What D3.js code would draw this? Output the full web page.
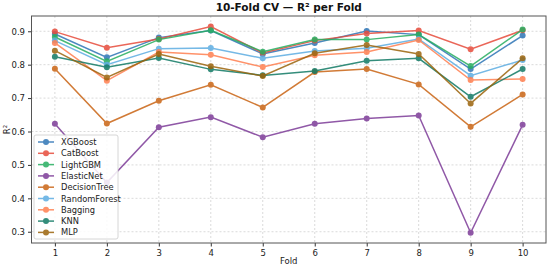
<!DOCTYPE html>
<html><head><meta charset="utf-8">
<script src="https://cdn.jsdelivr.net/npm/d3@7"></script>
<style>body{margin:0;background:#fff}svg{display:block;font-family:"DejaVu Sans",sans-serif}</style>
</head><body><svg id="c" width="550" height="270"></svg>
<script>
const folds = [1,2,3,4,5,6,7,8,9,10];
const models = ["XGBoost","CatBoost","LightGBM","ElasticNet","DecisionTree","RandomForest","Bagging","KNN","MLP"];
const colors = ["#2E75B6","#E74C3C","#27AE60","#7D3C98","#CA6414","#5DADE2","#FF7F50","#117A65","#9C640C"];
const xgboost      = [0.892,0.822,0.881,0.902,0.832,0.865,0.901,0.890,0.787,0.887];
const catboost     = [0.899,0.851,0.877,0.914,0.835,0.872,0.893,0.902,0.846,0.903];
const lightgbm     = [0.883,0.810,0.875,0.903,0.839,0.875,0.875,0.890,0.796,0.905];
const elasticnet   = [0.623,0.447,0.613,0.643,0.583,0.623,0.639,0.648,0.297,0.620];
const decisiontree = [0.788,0.624,0.692,0.740,0.672,0.778,0.787,0.741,0.614,0.711];
const randomforest = [0.872,0.800,0.848,0.850,0.819,0.841,0.849,0.877,0.767,0.814];
const bagging      = [0.865,0.752,0.838,0.830,0.793,0.828,0.838,0.874,0.754,0.757];
const knn          = [0.824,0.792,0.820,0.786,0.768,0.781,0.812,0.819,0.704,0.787];
const mlp          = [0.842,0.762,0.832,0.795,0.766,0.834,0.859,0.832,0.684,0.819];
const series = [xgboost,catboost,lightgbm,elasticnet,decisiontree,randomforest,bagging,knn,mlp];
const yTicks = [0.3,0.4,0.5,0.6,0.7,0.8,0.9];

const svg = d3.select("#c");
const L=31.5,R=546,T=16,B=243;
const x = d3.scaleLinear().domain([0.55,10.45]).range([L,R]);
const y = d3.scaleLinear().domain([0.2663,0.9457]).range([B,T]);

// grid
const g = svg.append("g");
g.selectAll(".gx").data(folds).enter().append("line")
 .attr("x1",d=>x(d)).attr("x2",d=>x(d)).attr("y1",T).attr("y2",B)
 .attr("stroke","#d0d0d0").attr("stroke-width",0.8).attr("stroke-dasharray","2,2");
g.selectAll(".gy").data(yTicks).enter().append("line")
 .attr("y1",d=>y(d)).attr("y2",d=>y(d)).attr("x1",L).attr("x2",R)
 .attr("stroke","#d0d0d0").attr("stroke-width",0.8).attr("stroke-dasharray","2,2");

// axes
const xa = svg.append("g").attr("transform",`translate(0,${B})`)
 .call(d3.axisBottom(x).tickValues(folds).tickFormat(d3.format("d")).tickSize(3.5).tickPadding(3));
const ya = svg.append("g").attr("transform",`translate(${L},0)`)
 .call(d3.axisLeft(y).tickValues(yTicks).tickFormat(d3.format(".1f")).tickSize(3.5).tickPadding(3));
[xa,ya].forEach(a=>{a.select(".domain").remove();a.selectAll("line").attr("stroke","#333");
 a.selectAll("text").attr("font-size","8.5px").attr("fill","#222").attr("font-family","DejaVu Sans");});

svg.append("rect").attr("x",L).attr("y",T).attr("width",R-L).attr("height",B-T)
 .attr("fill","none").attr("stroke","#555").attr("stroke-width",1);

// lines
const line = d3.line().x((d,i)=>x(folds[i])).y(d=>y(d));
series.forEach((s,k)=>{
  const gg = svg.append("g").attr("opacity",0.85);
  gg.append("path").datum(s).attr("d",line).attr("fill","none").attr("stroke",colors[k]).attr("stroke-width",1.5);
  gg.selectAll("circle").data(s).enter().append("circle")
   .attr("cx",(d,i)=>x(folds[i])).attr("cy",d=>y(d)).attr("r",3).attr("fill",colors[k]);
});

// title & labels
svg.append("text").attr("x",(L+R)/2).attr("y",11).attr("text-anchor","middle")
 .attr("font-size","10.5px").attr("font-weight","bold").attr("fill","#111").text("10-Fold CV — R² per Fold");
svg.append("text").attr("x",(L+R)/2).attr("y",264).attr("text-anchor","middle")
 .attr("font-size","8.5px").attr("fill","#222").text("Fold");
svg.append("text").attr("transform",`translate(10,${(T+B)/2}) rotate(-90)`).attr("text-anchor","middle")
 .attr("font-size","8.5px").attr("fill","#222").text("R²");

// legend
const lg = svg.append("g").attr("transform","translate(34,135)");
lg.append("rect").attr("width",84).attr("height",104).attr("rx",2)
 .attr("fill","#fff").attr("fill-opacity",0.85).attr("stroke","#ccc").attr("stroke-width",0.8);
models.forEach((m,k)=>{
  const yy = 7 + k*11.3;
  const e = lg.append("g").attr("opacity",0.85);
  e.append("line").attr("x1",4).attr("x2",20).attr("y1",yy).attr("y2",yy).attr("stroke",colors[k]).attr("stroke-width",1.5);
  e.append("circle").attr("cx",12).attr("cy",yy).attr("r",3).attr("fill",colors[k]);
  lg.append("text").attr("x",27).attr("y",yy+3).attr("font-size","8.3px").attr("fill","#222").text(m);
});
</script></body></html>
